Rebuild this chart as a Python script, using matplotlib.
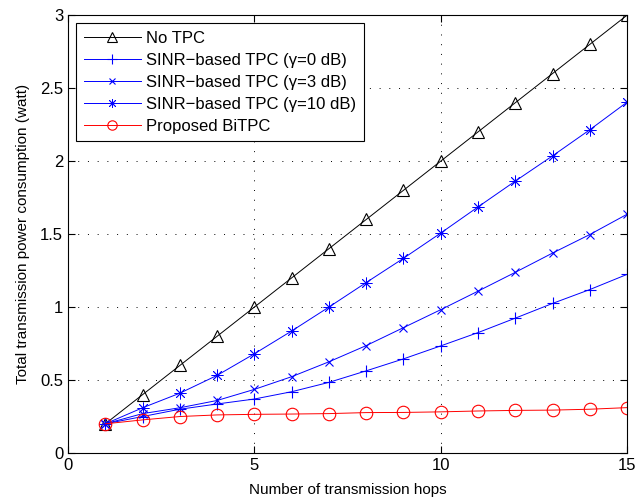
import matplotlib
matplotlib.use("Agg")
import matplotlib.pyplot as plt

plt.rcParams["font.family"] = ["Liberation Sans", "DejaVu Sans"]

hops = list(range(1, 16))

no_tpc = [0.2, 0.4, 0.6, 0.8, 1.0, 1.2, 1.4, 1.6, 1.8, 2.0, 2.2, 2.4, 2.6, 2.8, 3.0]
sinr_0db = [0.2, 0.25, 0.30, 0.336, 0.37, 0.42, 0.484, 0.563, 0.645, 0.734,
            0.825, 0.924, 1.025, 1.12, 1.224]
sinr_3db = [0.2, 0.27, 0.31, 0.36, 0.436, 0.523, 0.625, 0.736, 0.859, 0.982,
            1.109, 1.238, 1.370, 1.497, 1.636]
sinr_10db = [0.2, 0.31, 0.41, 0.532, 0.68, 0.836, 1.0, 1.168, 1.334, 1.507,
             1.686, 1.863, 2.036, 2.215, 2.404]
bitpc = [0.2, 0.227, 0.25, 0.261, 0.265, 0.267, 0.27, 0.277, 0.278, 0.282,
         0.288, 0.292, 0.294, 0.300, 0.311]

labels = ["No TPC",
          "SINR\u2212based TPC (\u03b3=0 dB)",
          "SINR\u2212based TPC (\u03b3=3 dB)",
          "SINR\u2212based TPC (\u03b3=10 dB)",
          "Proposed BiTPC"]

fig = plt.figure(figsize=(6.36, 4.97), dpi=100)
ax = fig.add_axes([0.107, 0.0885, 0.879, 0.881])

lw = 0.7
ax.plot(hops, no_tpc, color="black", lw=lw, marker="^", ms=9,
        mfc="none", mec="black", mew=0.8, label=labels[0])
ax.plot(hops, sinr_0db, color="blue", lw=lw, marker="+", ms=9,
        mew=0.8, label=labels[1])
ax.plot(hops, sinr_3db, color="blue", lw=lw, marker="x", ms=6,
        mew=0.8, label=labels[2])
ax.plot(hops, sinr_10db, color="blue", lw=lw, marker=(8, 2, 0), ms=8.5,
        mew=0.6, label=labels[3])
ax.plot(hops, bitpc, color="red", lw=lw, marker="o", ms=9,
        mfc="none", mec="red", mew=0.8, label=labels[4])

ax.set_xlim(0, 15)
ax.set_ylim(0, 3)
ax.set_xticks([0, 5, 10, 15])
ax.set_yticks([0, 0.5, 1, 1.5, 2, 2.5, 3])
ax.set_yticklabels(["0", "0.5", "1", "1.5", "2", "2.5", "3"])
ax.tick_params(direction="in", top=True, right=True, labelsize=12, length=5)
ax.grid(True, linestyle=(0, (1, 9)), color="black", lw=0.7)
for sp in ax.spines.values():
    sp.set_linewidth(0.8)

ax.set_xlabel("Number of transmission hops", fontsize=11, labelpad=7)
ax.set_ylabel("Total transmission power consumption (watt)", fontsize=11, labelpad=7)

leg = ax.legend(loc="upper left", fontsize=12, handlelength=3.4,
                handletextpad=0.35, borderpad=0.45, fancybox=False,
                edgecolor="black", framealpha=1, borderaxespad=0.5,
                labelspacing=0.42, markerscale=0.75)
leg.get_frame().set_linewidth(0.8)

fig.savefig("out.png", dpi=100)
